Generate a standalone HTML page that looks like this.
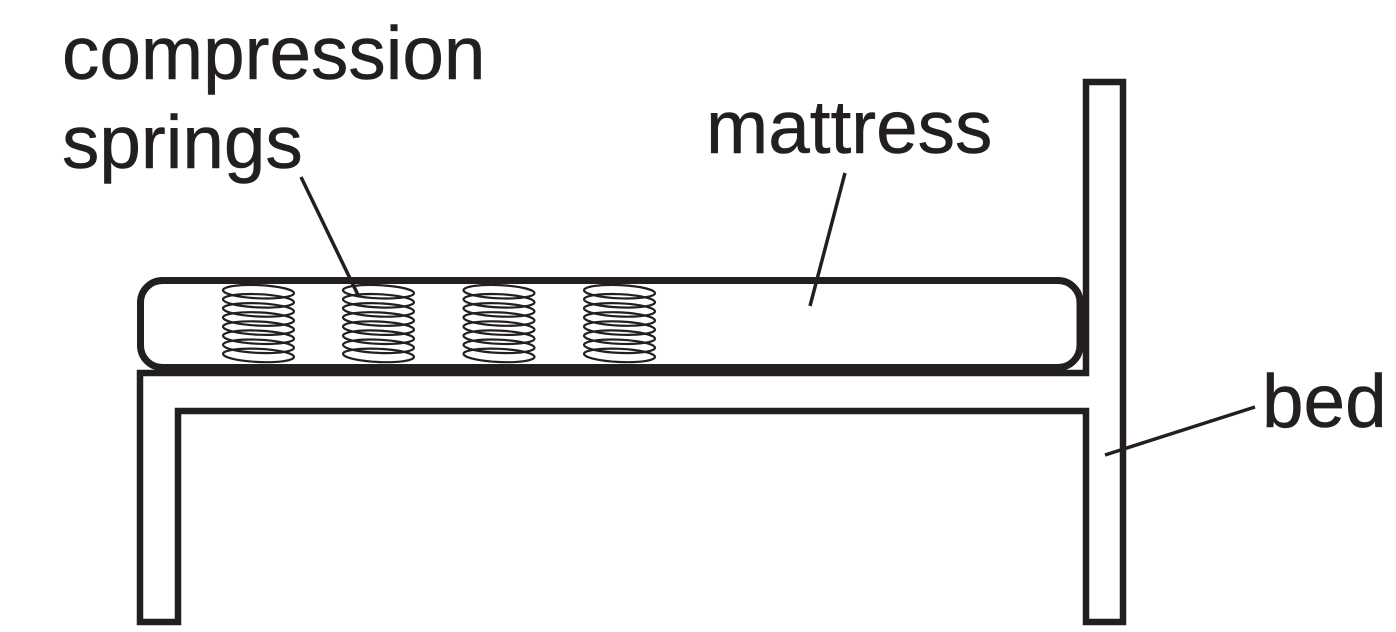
<!DOCTYPE html>
<html><head><meta charset="utf-8"><style>html,body{margin:0;padding:0;background:#fff}svg{display:block}text{font-family:"Liberation Sans",sans-serif;font-size:74.7px;fill:#231f20;stroke:#231f20;stroke-width:.5}</style></head>
<body>
<svg width="1396" height="632" viewBox="0 0 1396 632" xmlns="http://www.w3.org/2000/svg">
<defs>
<g id="s" fill="none" stroke="#231f20" stroke-width="2.2">
<ellipse cx="0" cy="0" rx="35.5" ry="6.6" transform="translate(0 291.7) rotate(2.5)"/>
<ellipse cx="0" cy="0" rx="35.5" ry="6.6" transform="translate(0 300.8) rotate(2.5)"/>
<ellipse cx="0" cy="0" rx="35.5" ry="6.6" transform="translate(0 309.9) rotate(2.5)"/>
<ellipse cx="0" cy="0" rx="35.5" ry="6.6" transform="translate(0 319) rotate(2.5)"/>
<ellipse cx="0" cy="0" rx="35.5" ry="6.6" transform="translate(0 328.1) rotate(2.5)"/>
<ellipse cx="0" cy="0" rx="35.5" ry="6.6" transform="translate(0 337.2) rotate(2.5)"/>
<ellipse cx="0" cy="0" rx="35.5" ry="6.6" transform="translate(0 346.3) rotate(2.5)"/>
<ellipse cx="0" cy="0" rx="35.5" ry="6.6" transform="translate(0 355.4) rotate(2.5)"/>
</g>
</defs>
<g fill="none" stroke="#231f20" stroke-miterlimit="10">
<path stroke-width="6.5" d="M1086 373V82H1123V622H1086V411H178V622H140V373Z"/>
<rect x="140.5" y="280.5" width="939.5" height="87" rx="22" stroke-width="7"/>
<path stroke-width="6" d="M160 369H1066"/>
</g>
<use href="#s" x="258.5"/><use href="#s" x="378.5"/><use href="#s" x="499"/><use href="#s" x="619.5"/>
<g fill="none" stroke="#231f20">
<path stroke-width="3.5" d="M301 177L359 297M845 173L810 306M1255 407L1105 455"/>
</g>
<text x="62" y="79">compression</text>
<text x="62" y="168">springs</text>
<text x="706" y="153">mattress</text>
<text x="1262" y="427">bed</text>
</svg>
</body></html>
